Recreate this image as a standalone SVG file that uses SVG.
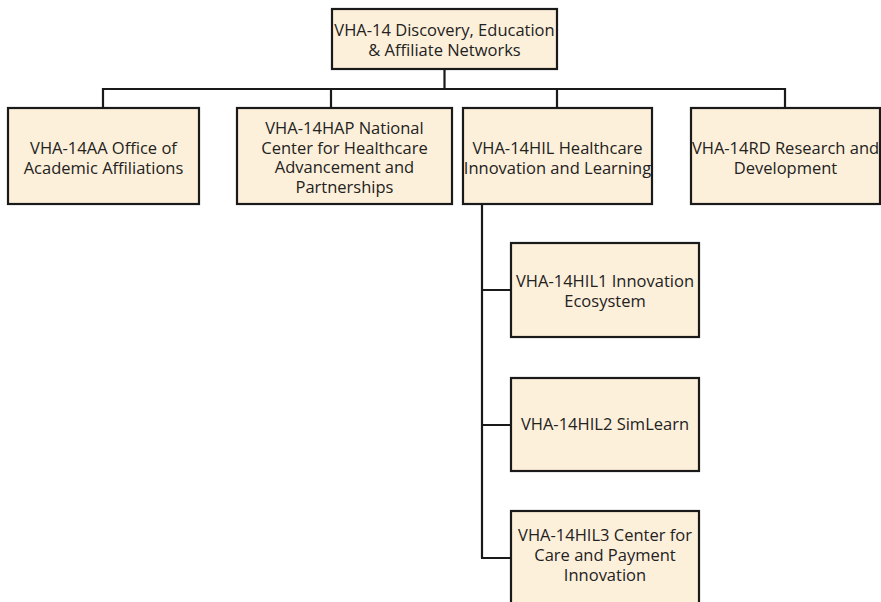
<svg xmlns="http://www.w3.org/2000/svg" width="881" height="602" viewBox="0 0 881 602">
<style>
.box{fill:#FDF0DA;stroke:#1a1a1a;stroke-width:2.2}
.lbl{font-family:"Open Sans","Liberation Sans",sans-serif;font-size:16.5px;fill:#222;text-anchor:middle}
.con{fill:none;stroke:#1a1a1a;stroke-width:2.2}
</style>
<rect width="881" height="602" fill="#ffffff"/>
<g id="connectors">
<path class="con" d="M444.5 69 V89 M103 89 H785 M103 88 V108 M331 88 V108 M557 88 V108 M785 88 V108"/>
<path class="con" d="M482 204 V558 M481 290 H511 M481 425 H511 M481 558 H511"/>
</g>
<g id="n-top">
<rect class="box" x="332" y="9" width="225" height="60"/>
<text class="lbl"><tspan x="444.5" y="35.5">VHA-14 Discovery, Education</tspan><tspan x="444.5" y="55.5">&amp; Affiliate Networks</tspan></text>
</g>
<g id="n-aa">
<rect class="box" x="8" y="108" width="191" height="96"/>
<text class="lbl"><tspan x="103.5" y="154">VHA-14AA Office of</tspan><tspan x="103.5" y="173.5">Academic Affiliations</tspan></text>
</g>
<g id="n-hap">
<rect class="box" x="237" y="108" width="215" height="96"/>
<text class="lbl"><tspan x="344.5" y="134">VHA-14HAP National</tspan><tspan x="344.5" y="153.5">Center for Healthcare</tspan><tspan x="344.5" y="173">Advancement and</tspan><tspan x="344.5" y="192.5">Partnerships</tspan></text>
</g>
<g id="n-hil">
<rect class="box" x="463" y="108" width="189" height="96"/>
<text class="lbl"><tspan x="557.5" y="154">VHA-14HIL Healthcare</tspan><tspan x="557.5" y="173.5">Innovation and Learning</tspan></text>
</g>
<g id="n-rd">
<rect class="box" x="691" y="108" width="189" height="96"/>
<text class="lbl"><tspan x="785.5" y="154">VHA-14RD Research and</tspan><tspan x="785.5" y="173.5">Development</tspan></text>
</g>
<g id="n-hil1">
<rect class="box" x="511" y="243" width="188" height="94"/>
<text class="lbl"><tspan x="605" y="287">VHA-14HIL1 Innovation</tspan><tspan x="605" y="306.5">Ecosystem</tspan></text>
</g>
<g id="n-hil2">
<rect class="box" x="511" y="378" width="188" height="93"/>
<text class="lbl" x="605" y="430">VHA-14HIL2 SimLearn</text>
</g>
<g id="n-hil3">
<rect class="box" x="511" y="511" width="188" height="96"/>
<text class="lbl"><tspan x="605" y="541">VHA-14HIL3 Center for</tspan><tspan x="605" y="561">Care and Payment</tspan><tspan x="605" y="581">Innovation</tspan></text>
</g>
</svg>
